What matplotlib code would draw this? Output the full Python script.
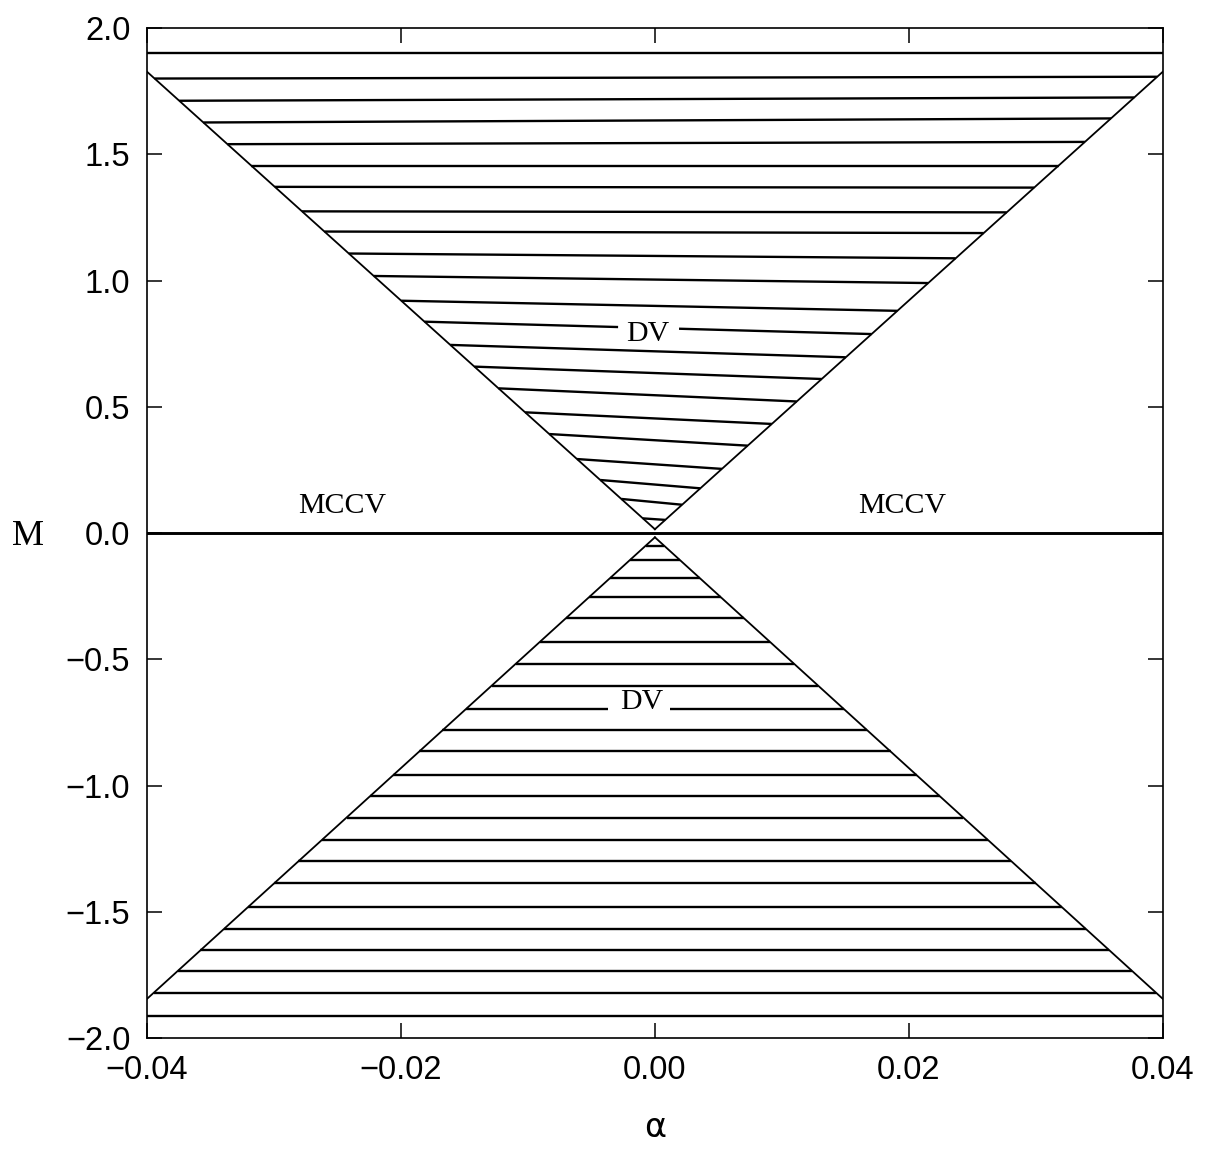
import numpy as np
import matplotlib
matplotlib.use("Agg")
import matplotlib.pyplot as plt

# ---- data ----
x_ticks = [-0.04, -0.02, 0.00, 0.02, 0.04]
x_tick_labels = ["\u22120.04", "\u22120.02", "0.00", "0.02", "0.04"]
y_ticks = [-2.0, -1.5, -1.0, -0.5, 0.0, 0.5, 1.0, 1.5, 2.0]
y_tick_labels = ["\u22122.0", "\u22121.5", "\u22121.0", "\u22120.5", "0.0", "0.5", "1.0", "1.5", "2.0"]

# boundary of the DV regions (alpha, M)
edge_alpha = [-0.04, 0.0, 0.04]
upper_edge_M = [1.827, 0.015, 1.827]
lower_edge_M = [-1.845, -0.017, -1.845]

# hatch lines of the upper DV region: M at left end, M at right end
upper_hatch_left = [1.90, 1.80, 1.712, 1.626, 1.54, 1.455, 1.371, 1.274, 1.194, 1.107,
                    1.018, 0.920, 0.837, 0.745, 0.659, 0.573, 0.478, 0.392, 0.293,
                    0.210, 0.135, 0.058]
upper_hatch_right = [1.90, 1.807, 1.725, 1.642, 1.549, 1.455, 1.368, 1.270, 1.188, 1.088,
                     0.990, 0.880, 0.788, 0.696, 0.610, 0.521, 0.432, 0.346, 0.254,
                     0.177, 0.112, 0.052]
# hatch lines of the lower DV region
lower_hatch = [-0.050, -0.107, -0.179, -0.254, -0.338, -0.430, -0.518, -0.604, -0.696,
               -0.782, -0.865, -0.960, -1.043, -1.127, -1.215, -1.300, -1.388, -1.482,
               -1.567, -1.653, -1.735, -1.820, -1.911]

# labels: (text, alpha, M)
region_labels = [("MCCV", -0.0246, 0.108), ("MCCV", 0.0195, 0.108),
                 ("DV", -0.0006, 0.790), ("DV", -0.0010, -0.671)]
dv_line_upper = 12          # index of the upper hatch line broken by the label
dv_gap_upper = (-0.0029, 0.0019)
dv_line_lower = 8           # index of the lower hatch line broken by the label
dv_gap_lower = (-0.0037, 0.0012)

XMIN, XMAX = -0.04, 0.04
YMIN, YMAX = -2.0, 2.0

fig = plt.figure(figsize=(12.05, 11.49), dpi=100)
ax = fig.add_axes([0.122, 0.0966, 0.843, 0.879])
ax.set_xlim(XMIN, XMAX)
ax.set_ylim(YMIN, YMAX)

hatch_lw = 1.7
edge_lw = 1.3


def edge_x(M, edge_M, side):
    """alpha where the boundary reaches level M (side=-1 left, +1 right)."""
    apex = edge_M[1]
    corner = edge_M[2] if side > 0 else edge_M[0]
    x = side * 0.04 * (M - apex) / (corner - apex)
    return float(np.clip(x, XMIN, XMAX))


def draw_seg(x0, m0, x1, m1, gap=None):
    if gap is None:
        ax.plot([x0, x1], [m0, m1], color="black", lw=hatch_lw, solid_capstyle="butt")
        return
    g0, g1 = gap
    mg0 = m0 + (m1 - m0) * (g0 - x0) / (x1 - x0)
    mg1 = m0 + (m1 - m0) * (g1 - x0) / (x1 - x0)
    ax.plot([x0, g0], [m0, mg0], color="black", lw=hatch_lw, solid_capstyle="butt")
    ax.plot([g1, x1], [mg1, m1], color="black", lw=hatch_lw, solid_capstyle="butt")


# boundaries
ax.plot(edge_alpha[:2], upper_edge_M[:2], color="black", lw=edge_lw)
ax.plot(edge_alpha[1:], upper_edge_M[1:], color="black", lw=edge_lw)
ax.plot(edge_alpha[:2], lower_edge_M[:2], color="black", lw=edge_lw)
ax.plot(edge_alpha[1:], lower_edge_M[1:], color="black", lw=edge_lw)

# upper hatching
for i, (ml, mr) in enumerate(zip(upper_hatch_left, upper_hatch_right)):
    xl = edge_x(ml, upper_edge_M, -1)
    xr = edge_x(mr, upper_edge_M, +1)
    draw_seg(xl, ml, xr, mr, dv_gap_upper if i == dv_line_upper else None)

# lower hatching
for i, m in enumerate(lower_hatch):
    xl = edge_x(m, lower_edge_M, -1)
    xr = edge_x(m, lower_edge_M, +1)
    draw_seg(xl, m, xr, m, dv_gap_lower if i == dv_line_lower else None)

# M = 0 line
ax.plot([XMIN, XMAX], [0.0, 0.0], color="black", lw=2.1)

# region labels
for txt, a, m in region_labels:
    ax.text(a, m, txt, ha="center", va="center", fontsize=21.5,
            family="Liberation Serif", color="black")

# axes styling
ax.set_xticks(x_ticks)
ax.set_xticklabels(x_tick_labels)
ax.set_yticks(y_ticks)
ax.set_yticklabels(y_tick_labels)
ax.tick_params(axis="both", which="major", direction="in", length=11, width=1.1,
               top=True, right=True, labelsize=23.5, pad=12)
for lab in ax.get_xticklabels() + ax.get_yticklabels():
    lab.set_family("Liberation Sans")
for sp in ax.spines.values():
    sp.set_linewidth(1.2)

ax.text(0.5, -0.089, "\u03b1", transform=ax.transAxes, ha="center", va="center",
        fontsize=24, family="DejaVu Sans")
ax.text(-0.117, 0.497, "M", transform=ax.transAxes, ha="center", va="center",
        fontsize=26, family="Liberation Serif")

fig.savefig("out.png", dpi=100)
